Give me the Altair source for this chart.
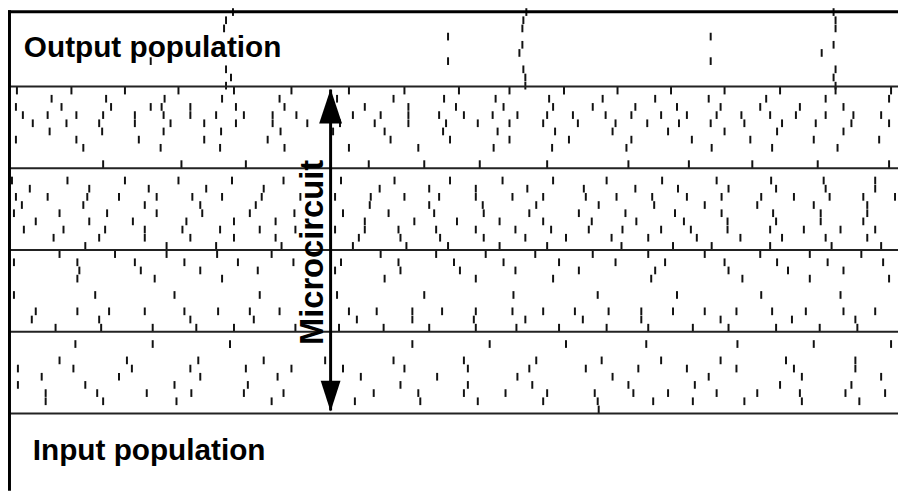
import altair as alt
import pandas as pd

# Spike times (ms) for every neuron row, listed top row first within each population.
output_pop = [
    [235, 531, 841],
    [228, 528, 843],
    [226, 527, 843],
    [452, 717],
    [527, 841],
    [524, 829],
    [152, 452, 717],
    [228, 528, 843],
    [233, 530, 841],
    [228, 530, 843],
]

micro1 = [
    [17, 72, 126, 180, 236, 294, 352, 408, 463, 514, 569, 623, 677, 731, 787, 843, 899],
    [52, 107, 166, 224, 282, 340, 397, 448, 500, 554, 608, 661, 715, 773, 833, 897],
    [16, 62, 112, 152, 163, 192, 238, 287, 368, 412, 460, 508, 558, 598, 641, 683, 727, 767, 807, 851],
    [23, 48, 77, 104, 136, 165, 192, 218, 246, 275, 299, 356, 384, 412, 443, 468, 497, 522, 552, 578,
     611, 637, 667, 693, 723, 748, 777, 803, 833, 861, 889],
    [33, 67, 100, 136, 172, 206, 238, 275, 310, 343, 378, 412, 450, 482, 514, 548, 583, 621, 653, 685,
     717, 751, 789, 823, 859, 897],
    [50, 103, 165, 223, 283, 336, 388, 447, 502, 560, 618, 674, 731, 784, 851],
    [16, 77, 140, 206, 270, 394, 454, 514, 574, 637, 698, 757, 821, 887],
    [84, 162, 222, 287, 352, 422, 498, 557, 632, 718, 779, 845],
    [],
    [104, 183, 248, 372, 428, 484, 552, 634, 695, 759, 825, 897],
]

micro2 = [
    [],
    [12, 68, 126, 180, 234, 286, 344, 398, 454, 507, 558, 612, 668, 723, 778, 831, 883],
    [30, 90, 150, 208, 266, 383, 433, 480, 532, 589, 641, 684, 735, 783, 833, 883],
    [16, 48, 88, 120, 158, 194, 224, 264, 303, 338, 374, 408, 443, 480, 517, 548, 591, 622, 658, 693,
     728, 768, 801, 837, 871, 903],
    [22, 84, 146, 202, 258, 373, 433, 487, 541, 604, 660, 711, 764, 821, 875],
    [14, 60, 108, 158, 204, 252, 297, 346, 392, 438, 488, 534, 584, 631, 681, 728, 780, 828, 875],
    [36, 90, 134, 188, 236, 278, 368, 418, 461, 504, 548, 597, 642, 690, 734, 783, 828, 871],
    [24, 64, 106, 146, 184, 222, 262, 298, 338, 368, 402, 440, 480, 520, 556, 594, 628, 667, 697, 734,
     777, 811, 848, 883],
    [54, 100, 146, 192, 236, 278, 362, 404, 444, 488, 530, 571, 617, 654, 703, 747, 789, 833, 875],
    [86, 168, 218, 284, 356, 410, 452, 504, 552, 627, 679, 718, 777, 839, 889],
]

micro3 = [
    [60, 116, 168, 219, 274, 384, 440, 490, 540, 598, 654, 711, 767, 817, 869],
    [14, 78, 136, 186, 240, 296, 344, 402, 458, 508, 564, 621, 671, 731, 784, 835, 891],
    [8, 80, 142, 202, 260, 338, 404, 464, 520, 584, 661, 735, 795, 851],
    [78, 156, 224, 388, 480, 558, 657, 749, 817, 897],
    [],
    [14, 96, 176, 262, 340, 428, 518, 603, 683, 768, 848],
    [],
    [36, 78, 110, 146, 186, 220, 252, 282, 352, 380, 416, 446, 480, 517, 548, 580, 614, 647, 679, 711,
     743, 779, 813, 851, 883],
    [32, 100, 192, 256, 360, 416, 478, 530, 588, 647, 727, 799, 863],
    [56, 102, 154, 198, 236, 298, 342, 387, 433, 480, 521, 564, 612, 654, 699, 735, 783, 827, 865],
]

micro4 = [
    [],
    [76, 154, 232, 416, 494, 571, 652, 744, 821, 899],
    [],
    [60, 128, 200, 266, 328, 397, 468, 541, 607, 667, 727, 793, 863],
    [18, 74, 133, 192, 248, 294, 346, 408, 472, 534, 591, 644, 693, 743, 801, 863],
    [42, 120, 202, 280, 364, 441, 522, 618, 715, 809, 889],
    [18, 86, 176, 250, 404, 472, 537, 634, 701, 787, 859],
    [46, 98, 148, 193, 246, 286, 377, 422, 468, 510, 552, 600, 639, 674, 723, 764, 807, 853, 893],
    [46, 104, 178, 274, 358, 424, 482, 548, 603, 659, 699, 751, 809, 867],
    [604],
]

input_pop = [[] for _ in range(10)]  # silent in this window

populations = [output_pop, micro1, micro2, micro3, micro4, input_pop]
band_edges = [10, 20, 30, 40, 50]          # neuron index where a new population starts
labels = ["Output population", "Input population"]
label_time = [24, 33]
label_pos = [6.36, 55.70]
circuit_label = "Microcircuit"
arrow_time = 333.5
arrow_span = [10.36, 49.64]
arrow_heads = [12.42, 47.88]

rows = []
for b, pop in enumerate(populations):
    for r, times in enumerate(pop):
        for t in times:
            rows.append({"time": t, "neuron": b * 10 + r})
spikes = pd.DataFrame(rows)

W, H = 898, 485
xs = alt.Scale(domain=[8, 906], nice=False, zero=False)
ys = alt.Scale(domain=[0.6667, 59.4545], reverse=True, nice=False, zero=False)
X = lambda f: alt.X(f, type="quantitative", scale=xs, axis=None)
Y = lambda f: alt.Y(f, type="quantitative", scale=ys, axis=None)

spike_layer = alt.Chart(spikes).transform_calculate(
    pos="datum.neuron + 0.5 + (datum.neuron < 10 ? 0.4 : 0)"
).transform_calculate(
    y0="datum.pos - 0.47", y1="datum.pos + 0.47"
).mark_rule(color="#111111", strokeWidth=2).encode(
    x=X("time"), y=Y("y0"), y2="y1"
)

sep = alt.Chart(pd.DataFrame({"edge": band_edges})).mark_rule(
    color="#222222", strokeWidth=2
).encode(x=alt.value(0), x2=alt.value(W), y=Y("edge"))

left_border = alt.Chart(pd.DataFrame({"a": [0]})).mark_rule(
    color="black", strokeWidth=3
).encode(x=alt.value(1.5), y=alt.value(0), y2=alt.value(H))

top_border = alt.Chart(pd.DataFrame({"a": [0]})).mark_rule(
    color="black", strokeWidth=3
).encode(y=alt.value(1.5), x=alt.value(0), x2=alt.value(W))

text_layer = alt.Chart(pd.DataFrame({"label": labels, "time": label_time, "pos": label_pos})).mark_text(
    align="left", baseline="alphabetic", font="Liberation Sans", fontWeight="bold", fontSize=30, color="black"
).encode(x=X("time"), y=Y("pos"), text="label:N")

circuit_text = alt.Chart(pd.DataFrame({"label": [circuit_label], "time": [326], "pos": [30.30]})).mark_text(
    align="center", baseline="alphabetic", angle=270, font="Liberation Sans", fontWeight="bold",
    fontSize=33, color="black"
).encode(x=X("time"), y=Y("pos"), text="label:N")

shaft = alt.Chart(pd.DataFrame({"time": [arrow_time], "a": [arrow_span[0]], "b": [arrow_span[1]]})).mark_rule(
    color="black", strokeWidth=3
).encode(x=X("time"), y=Y("a"), y2="b")

head_up = alt.Chart(pd.DataFrame({"time": [arrow_time], "pos": [arrow_heads[0]]})).mark_point(
    shape="M0,-1L0.66,1L-0.66,1Z", filled=True, size=1225, color="black", opacity=1, strokeWidth=0
).encode(x=X("time"), y=Y("pos"))

head_down = alt.Chart(pd.DataFrame({"time": [arrow_time], "pos": [arrow_heads[1]]})).mark_point(
    shape="M0,1L0.645,-1L-0.645,-1Z", filled=True, size=961, color="black", opacity=1, strokeWidth=0
).encode(x=X("time"), y=Y("pos"))

chart = alt.layer(
    spike_layer, sep, left_border, top_border, text_layer, circuit_text, shaft, head_up, head_down
).properties(
    width=W, height=H, padding=0, autosize="none", background="white"
).configure_view(stroke=None)

chart.save("out.html", embed_options={"renderer": "svg", "actions": False})
